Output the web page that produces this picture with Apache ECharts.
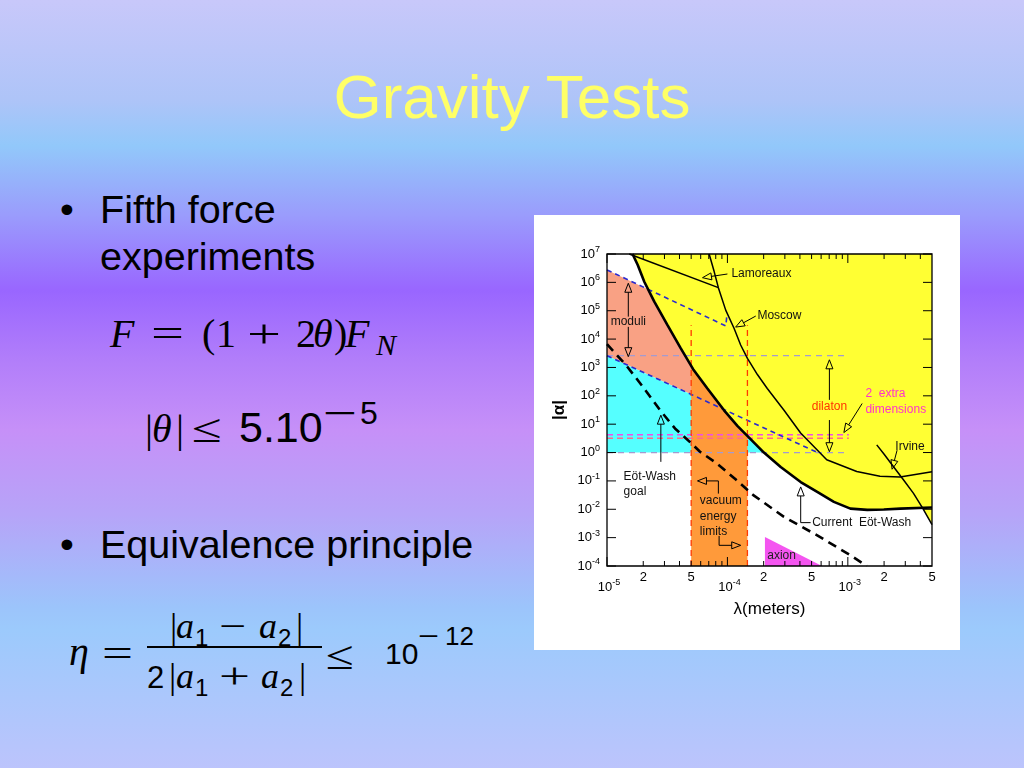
<!DOCTYPE html>
<html><head><meta charset="utf-8">
<script src="https://cdn.jsdelivr.net/npm/echarts@6/dist/echarts.min.js"></script>
<style>
html,body{margin:0;padding:0;width:1024px;height:768px;overflow:hidden}
#bg{position:absolute;left:0;top:0;width:1024px;height:768px;
background:linear-gradient(to bottom,#c8c8fa 0%,#aec4f8 13%,#92c8fa 19%,#9a9cfc 28%,#9966ff 37.8%,#b27efa 47%,#c690f8 56%,#b6a4f8 67%,#9cc4fb 79%,#9ccafc 82%,#bcc4fc 100%)}
#slide{position:absolute;left:0;top:0}
#chart{position:absolute;left:534px;top:215px;width:426px;height:435px;background:#fff}
</style></head>
<body>
<div id="bg"></div>
<svg id="slide" width="1024" height="768" xmlns="http://www.w3.org/2000/svg">
  <text x="512" y="118" text-anchor="middle" font-family="Liberation Sans, Arial, sans-serif" font-size="62" fill="#ffff66">Gravity Tests</text>
  <g font-family="Liberation Sans, Arial, sans-serif" font-size="39.5" fill="#000">
    <text x="60" y="223">•</text>
    <text x="100" y="223">Fifth force</text>
    <text x="100" y="270">experiments</text>
    <text x="60" y="558">•</text>
    <text x="100" y="558">Equivalence principle</text>
  </g>
  <g font-family="Liberation Serif, serif" fill="#000">
    <!-- F = (1 + 2θ)F_N -->
    <text x="110" y="347" font-size="40" font-style="italic">F</text>
    <text x="151" y="347" font-size="40" textLength="33" lengthAdjust="spacingAndGlyphs">=</text>
    <text x="202" y="347" font-size="40">(</text>
    <text x="216" y="347" font-size="40">1</text>
    <text x="247" y="347" font-size="40" textLength="34" lengthAdjust="spacingAndGlyphs">+</text>
    <text x="296" y="347" font-size="40">2</text>
    <text x="313" y="347" font-size="40" font-style="italic">θ</text>
    <text x="334" y="347" font-size="40">)</text>
    <text x="345" y="347" font-size="40" font-style="italic">F</text>
    <text x="376" y="355" font-size="30" font-style="italic">N</text>

    <!-- |θ| ≤ 5.10^-5 -->
    <text x="145" y="442" font-size="40">|</text>
    <text x="152" y="442" font-size="40" font-style="italic">θ</text>
    <text x="176" y="442" font-size="40">|</text>
    <text x="192" y="442" font-size="40" textLength="30" lengthAdjust="spacingAndGlyphs">≤</text>
    <text x="239" y="442" font-family="Liberation Sans, Arial, sans-serif" font-size="43">5.10</text>
    <text x="323" y="424" font-family="Liberation Sans, Arial, sans-serif" font-size="32" textLength="34" lengthAdjust="spacingAndGlyphs">−</text>
    <text x="360" y="424" font-family="Liberation Sans, Arial, sans-serif" font-size="32">5</text>

    <!-- eta = |a1 - a2| / 2|a1 + a2| <= 10^-12 -->
    <text x="69" y="665" font-size="40" font-style="italic">η</text>
    <text x="102" y="667" font-size="40" textLength="31" lengthAdjust="spacingAndGlyphs">=</text>
    <text x="170" y="638" font-size="36">|</text>
    <text x="176" y="638" font-size="36" font-style="italic">a</text>
    <text x="195" y="646" font-family="Liberation Sans, Arial, sans-serif" font-size="24">1</text>
    <text x="219" y="638" font-size="36" textLength="27" lengthAdjust="spacingAndGlyphs">−</text>
    <text x="259" y="638" font-size="36" font-style="italic">a</text>
    <text x="278" y="646" font-family="Liberation Sans, Arial, sans-serif" font-size="24">2</text>
    <text x="296" y="638" font-size="36">|</text>
    <rect x="147" y="646" width="175" height="2" fill="#000"/>
    <text x="147" y="688" font-family="Liberation Sans, Arial, sans-serif" font-size="31">2</text>
    <text x="169" y="688" font-size="36">|</text>
    <text x="176" y="688" font-size="36" font-style="italic">a</text>
    <text x="195" y="696" font-family="Liberation Sans, Arial, sans-serif" font-size="24">1</text>
    <text x="219" y="688" font-size="36" textLength="31" lengthAdjust="spacingAndGlyphs">+</text>
    <text x="261" y="688" font-size="36" font-style="italic">a</text>
    <text x="280" y="696" font-family="Liberation Sans, Arial, sans-serif" font-size="24">2</text>
    <text x="299" y="688" font-size="36">|</text>
    <text x="326" y="669" font-size="40" textLength="28" lengthAdjust="spacingAndGlyphs">≤</text>
    <text x="385" y="664" font-family="Liberation Sans, Arial, sans-serif" font-size="30">10</text>
    <text x="418" y="645" font-family="Liberation Sans, Arial, sans-serif" font-size="26" textLength="21" lengthAdjust="spacingAndGlyphs">−</text>
    <text x="445" y="645" font-family="Liberation Sans, Arial, sans-serif" font-size="26">12</text>
  </g>
</svg>
<div id="chart"></div>
<script>
// ---------- axis ranges & ticks ----------
const xRange = [1e-5, 5e-3];          // lambda (meters)
const yRange = [1e-4, 1e7];           // |alpha|
const xMajorTicks = [1e-5, 1e-4, 1e-3];
const xMajorExps = ['-5', '-4', '-3'];
const xMinorTicks = [2e-5,3e-5,4e-5,5e-5,6e-5,7e-5,8e-5,9e-5,2e-4,3e-4,4e-4,5e-4,6e-4,7e-4,8e-4,9e-4,2e-3,3e-3,4e-3];
const xMinorLabelVals = [2e-5, 5e-5, 2e-4, 5e-4, 2e-3, 5e-3];
const xMinorLabelText = ['2', '5', '2', '5', '2', '5'];
const yTicks = [1e-4,1e-3,1e-2,1e-1,1,10,100,1e3,1e4,1e5,1e6,1e7];
const yTickExps = ['-4','-3','-2','-1','0','1','2','3','4','5','6','7'];

// ---------- curves [lambda, alpha] ----------
const ewCurrent = [[1.63e-5,1e7],[1.80e-5,4.07e6],[2.04e-5,1.05e6],[2.47e-5,2.09e5],[3.18e-5,3.09e4],[4.10e-5,4.68e3],[5.19e-5,871],[6.82e-5,182],[9.38e-5,30.9],[1.21e-4,8.71],[1.47e-4,3.8],[2.01e-4,1.0],[2.77e-4,0.309],[4.06e-4,0.0912],[5.57e-4,0.0407],[7.66e-4,0.0182],[1.05e-3,0.0105],[1.45e-3,0.00955],[1.99e-3,0.00977],[2.73e-3,0.0105],[5e-3,0.0115]];
const ewGoal = [[1e-5,6.6e3],[1.46e-5,1.12e3],[2.0e-5,200],[2.75e-5,31.6],[3.67e-5,7.08],[5.0e-5,2.14],[5.92e-5,1.07],[8.15e-5,0.417],[1.175e-4,0.112],[1.64e-4,0.0316],[2.95e-4,0.0054],[5.57e-4,0.0012],[1.05e-3,2.4e-4],[1.435e-3,1e-4]];
const lamoreaux = [[1.53e-5,1e7],[8.41e-5,6.5e5]];
const moscow = [[7.05e-5,1e7],[7.76e-5,2.4e6],[8.41e-5,6.5e5],[9.68e-5,1.05e5],[1.135e-4,2.4e4],[1.288e-4,6.2e3],[1.466e-4,2.1e3],[1.774e-4,562],[2.143e-4,182],[2.951e-4,31],[4.055e-4,4.9],[6.68e-4,0.56],[1.186e-3,0.214],[1.849e-3,0.145],[2.716e-3,0.138],[5e-3,0.21]];
const irvine = [[1.738e-3,1.86],[1.995e-3,0.89],[2.388e-3,0.324],[2.884e-3,0.112],[3.5e-3,0.0372],[4.17e-3,0.0112],[5e-3,0.00288]];
const irvineJoin = 4.0e-3;
const moduliUpper = [[1e-5,2.75e6],[9.7e-5,2.9e4],[9.9e-5,7e4]];
const moduliLower = [[1e-5,2.6e3],[5.6e-4,1.0]];
const dilatonLevels = [2.6e3, 1.0];
const extraDimLevels = [4.2, 3.2];
const bandEnd = 1.02e-3;
const vacuumLimits = [5e-5, 1.466e-4];
const vacuumTop = 3.1e4;
const axion = [[2.05e-4,1.05e-3],[2.05e-4,1e-4],[6.1e-4,1e-4]];

// ---------- annotations ----------
const arrows = [
  [[1.0e-4,1.97e6],[6.21e-5,1.46e6]],                 // Lamoreaux
  [[1.72e-4,6.5e4],[1.17e-4,2.65e4]],                 // Moscow
  [[1.503e-5,6.2e4],[1.503e-5,9.3e5]],                // moduli up
  [[1.503e-5,2.7e4],[1.503e-5,2.4e3]],                // moduli down
  [[7.03e-4,72],[7.03e-4,1.86e3]],                    // dilaton up
  [[7.03e-4,14],[7.03e-4,1.07]],                      // dilaton down
  [[1.315e-3,53.6],[9.27e-4,5.08]],                   // 2 extra dimensions
  [[2.565e-3,1.21],[2.33e-3,0.258]],                  // Irvine
  [[2.8e-5,0.47],[2.8e-5,20.8]],                      // Eot-Wash goal
  [[8.41e-5,0.0357],[8.41e-5,0.1],[5.64e-5,0.1]],     // vacuum energy (left)
  [[8.53e-5,1.15e-3],[8.53e-5,5.36e-4],[1.29e-4,5.36e-4]], // vacuum energy (right)
  [[4.91e-4,3.38e-3],[4.06e-4,3.38e-3],[4.06e-4,0.0614]]   // Current Eot-Wash
];
const noteText = ['Lamoreaux','Moscow','moduli','dilaton','2  extra','dimensions','Irvine','Eöt-Wash','goal','vacuum','energy','limits','Current  Eöt-Wash','axion'];
const notePos = [[1.079e-4,1.97e6],[1.774e-4,6.5e4],[1.503e-5,4.17e4],[7.03e-4,40.7],[1.40e-3,114.5],[1.40e-3,31.2],[2.48e-3,1.67],[1.374e-5,0.138],[1.374e-5,0.0409],[5.9e-5,0.0197],[5.9e-5,5.66e-3],[5.9e-5,1.67e-3],[5.06e-4,3.38e-3],[2.14e-4,2.38e-4]];
const noteAlign = ['left','left','center','center','left','left','left','left','left','left','left','left','left','left'];
const noteColor = ['#111','#111','#111','#ff3300','#ff33cc','#ff33cc','#111','#111','#111','#111','#111','#111','#111','#222'];

// ---------- build ----------
const FONT = '"Liberation Sans", Arial, Helvetica, sans-serif';
const [xMin, xMax] = xRange, [yMin, yMax] = yRange;
const series = [];

function polygon(name, pts, color, z) {
  series.push({type:'custom', name, z, silent:true, data: pts, animation:false,
    renderItem: (params, api) => {
      if (params.dataIndex !== 0) return null;
      return {type:'polygon', shape:{points: pts.map(p => api.coord(p))}, style:{fill: color}};
    }});
}
function curve(name, pts, color, width, type, z) {
  series.push({type:'line', name, data: pts, z, symbol:'none', silent:true, animation:false,
    clip:false, lineStyle:{color, width, type}});
}

// fills (painted in order)
polygon('moduli', [moduliUpper[0], moduliUpper[1]].concat(moduliLower.slice().reverse()), '#f9a184', 1);
polygon('ew-goal-region', [moduliLower[0], moduliLower[1], [moduliLower[0][0], dilatonLevels[1]]], '#55ffff', 2);
polygon('vacuum', [[vacuumLimits[0], yMin],[vacuumLimits[1], yMin],[vacuumLimits[1], yMax],[vacuumLimits[0], yMax]], '#ff9a3a', 3);
const yellowEdge = ewCurrent.filter(p => p[0] < irvineJoin).concat(irvine.filter(p => p[0] >= irvineJoin));
polygon('excluded', yellowEdge.concat([[xMax, yMax]]), '#ffff33', 4);
polygon('axion', axion, '#f455f0', 5);

// dashed reference lines
dilatonLevels.forEach((v,i) => curve('dilaton'+i, [[xMin, v],[bandEnd, v]], '#a39bd0', 1.2, [6,5], 8));
curve('extra0', [[xMin, extraDimLevels[0]],[bandEnd, extraDimLevels[0]]], '#f04ee8', 1.5, [6,4], 9);
curve('extra1', [[xMin, extraDimLevels[1]],[bandEnd, extraDimLevels[1]]], '#ff6a8a', 1.5, [6,4], 9);
curve('moduliUpper', moduliUpper, '#2a2ad0', 1.6, [5,4], 9);
curve('moduliLower', moduliLower, '#2a2ad0', 1.6, [5,4], 9);
vacuumLimits.forEach((v,i) => curve('vacLim'+i, [[v, yMin],[v, vacuumTop]], '#ff3a00', 1.3, [6,4], 9));

// curves
curve('Lamoreaux', lamoreaux, '#000', 1.5, 'solid', 10);
curve('Moscow', moscow, '#000', 1.5, 'solid', 10);
curve('Irvine', irvine, '#000', 1.5, 'solid', 10);
curve('Current Eot-Wash', ewCurrent, '#000', 2.6, 'solid', 11);
curve('Eot-Wash goal', ewGoal, '#000', 2.6, [9,6], 11);

// frame + ticks + tick labels
const supRich = {
  b:{fontSize:13, fontFamily:FONT, lineHeight:18, fill:'#000'},
  s:{fontSize:9, fontFamily:FONT, lineHeight:8, verticalAlign:'top', fill:'#000'}
};
series.push({type:'custom', name:'frame', z:12, silent:true, animation:false, data:[[xMin, yMin]],
  renderItem: (params, api) => {
    const a = api.coord([xMin, yMax]), b = api.coord([xMax, yMin]);
    return {type:'rect', shape:{x:a[0], y:a[1], width:b[0]-a[0], height:b[1]-a[1]}, style:{fill:null, stroke:'#000', lineWidth:1.3}};
  }});
series.push({type:'custom', name:'yTicks', z:12, silent:true, animation:false, data: yTicks.map(v => [xMin, v]),
  renderItem: (params, api) => {
    const v = api.value(1);
    const l = api.coord([xMin, v]), r = api.coord([xMax, v]);
    return {type:'group', children:[
      {type:'line', shape:{x1:l[0], y1:l[1], x2:l[0]+9, y2:l[1]}, style:{stroke:'#000', lineWidth:1}},
      {type:'line', shape:{x1:r[0], y1:r[1], x2:r[0]-9, y2:r[1]}, style:{stroke:'#000', lineWidth:1}},
      {type:'text', x:l[0]-7, y:l[1], style:{text:'{b|10}{s|' + yTickExps[params.dataIndex] + '}', rich:supRich, align:'right', verticalAlign:'middle'}}
    ]};
  }});
series.push({type:'custom', name:'xMajor', z:12, silent:true, animation:false, data: xMajorTicks.map(v => [v, yMin]),
  renderItem: (params, api) => {
    const v = api.value(0);
    const b = api.coord([v, yMin]), t = api.coord([v, yMax]);
    return {type:'group', children:[
      {type:'line', shape:{x1:b[0], y1:b[1], x2:b[0], y2:b[1]-9}, style:{stroke:'#000', lineWidth:1}},
      {type:'line', shape:{x1:t[0], y1:t[1], x2:t[0], y2:t[1]+9}, style:{stroke:'#000', lineWidth:1}},
      {type:'text', x:b[0]+2, y:b[1]+21, style:{text:'{b|10}{s|' + xMajorExps[params.dataIndex] + '}', rich:supRich, align:'center', verticalAlign:'middle'}}
    ]};
  }});
series.push({type:'custom', name:'xMinor', z:12, silent:true, animation:false, data: xMinorTicks.map(v => [v, yMin]),
  renderItem: (params, api) => {
    const v = api.value(0);
    const b = api.coord([v, yMin]), t = api.coord([v, yMax]);
    return {type:'group', children:[
      {type:'line', shape:{x1:b[0], y1:b[1], x2:b[0], y2:b[1]-5}, style:{stroke:'#000', lineWidth:1}},
      {type:'line', shape:{x1:t[0], y1:t[1], x2:t[0], y2:t[1]+5}, style:{stroke:'#000', lineWidth:1}}
    ]};
  }});
series.push({type:'custom', name:'xMinorLabels', z:12, silent:true, animation:false, data: xMinorLabelVals.map(v => [v, yMin]),
  renderItem: (params, api) => {
    const b = api.coord([api.value(0), yMin]);
    return {type:'text', x:b[0], y:b[1]+11, style:{text:xMinorLabelText[params.dataIndex], fontSize:13, fontFamily:FONT, fill:'#000', align:'center', verticalAlign:'middle'}};
  }});

// arrows
series.push({type:'custom', name:'arrows', z:15, silent:true, animation:false, data: arrows.map(a => a[a.length-1]),
  renderItem: (params, api) => {
    const path = arrows[params.dataIndex].map(p => api.coord(p));
    const n = path.length, tip = path[n-1], prev = path[n-2];
    const dx = tip[0]-prev[0], dy = tip[1]-prev[1], L = Math.hypot(dx, dy) || 1;
    const ux = dx/L, uy = dy/L, hl = 9, hw = 3.5;
    const bx = tip[0]-ux*hl, by = tip[1]-uy*hl;
    return {type:'group', children:[
      {type:'polyline', shape:{points: path.slice(0, n-1).concat([[bx, by]])}, style:{stroke:'#000', lineWidth:1, fill:null}},
      {type:'polygon', shape:{points:[tip, [bx-uy*hw, by+ux*hw], [bx+uy*hw, by-ux*hw]]}, style:{stroke:'#000', lineWidth:1, fill:'rgba(0,0,0,0)'}}
    ]};
  }});
// annotation texts
series.push({type:'custom', name:'notes', z:16, silent:true, animation:false, data: notePos,
  renderItem: (params, api) => {
    const i = params.dataIndex;
    const p = api.coord([api.value(0), api.value(1)]);
    return {type:'text', x:p[0], y:p[1], style:{text:noteText[i], fontSize:12, fontFamily:FONT, fill:noteColor[i], align:noteAlign[i], verticalAlign:'middle'}};
  }});

const option = {
  animation:false,
  grid:{left:73, top:39, width:325, height:312, containLabel:false},
  xAxis:{type:'log', logBase:10, min:xMin, max:xMax,
    name:'λ(meters)', nameLocation:'middle', nameGap:35,
    nameTextStyle:{fontSize:17, fontFamily:FONT, color:'#000'},
    axisLine:{show:false}, axisTick:{show:false}, axisLabel:{show:false}, splitLine:{show:false}},
  yAxis:{type:'log', logBase:10, min:yMin, max:yMax,
    name:'|α|', nameLocation:'middle', nameGap:39, nameRotate:90,
    nameTextStyle:{fontSize:17, fontWeight:'bold', fontFamily:FONT, color:'#000'},
    axisLine:{show:false}, axisTick:{show:false}, axisLabel:{show:false}, splitLine:{show:false}},
  series
};
const chart = echarts.init(document.getElementById('chart'));
chart.setOption(option);
</script>
</body></html>
